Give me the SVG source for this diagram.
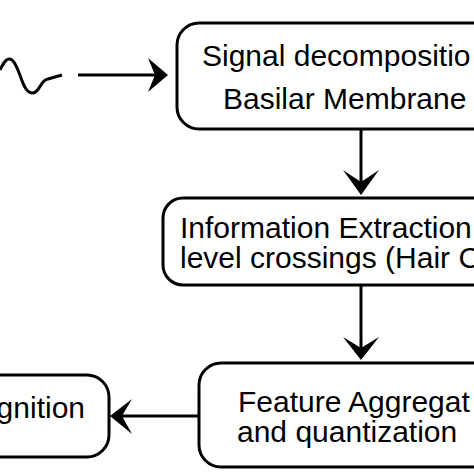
<svg xmlns="http://www.w3.org/2000/svg" width="474" height="474" viewBox="0 0 474 474">
<style>
.box{fill:#fff;stroke:#000;stroke-width:3}
.t{font-family:"Liberation Sans",Arial,sans-serif;font-size:30px;fill:#000}
.ln{stroke:#000;stroke-width:3;fill:none}
.ah{fill:#000;stroke:none}
</style>
<rect width="474" height="474" fill="#fff"/>
<g id="connectors">
<path class="ln" d="M0,70 C4,61 8,57 12,60 C20,66 22,93 32,93 C40,93 40,80 48,79 L62,75"/>
<path class="ln" d="M78,75 L155,75"/>
<path class="ah" d="M168,75 L148,58 L155,75 L148,92 Z"/>
<path class="ln" d="M361,129 L361,185"/>
<path class="ah" d="M361,195 L343,170 L361,182 L379,170 Z"/>
<path class="ln" d="M361,285 L361,350"/>
<path class="ah" d="M361,360 L343,337 L361,348 L379,337 Z"/>
<path class="ln" d="M199,416 L122,416"/>
<path class="ah" d="M110,416 L132,399 L122,416 L132,434 Z"/>
</g>
<g id="n1">
<rect class="box" x="177" y="23" width="330" height="106" rx="22"/>
<text class="t" x="202" y="66">Signal decompositio</text>
<text class="t" x="223" y="109">Basilar Membrane</text>
</g>
<g id="n2">
<rect class="box" x="163" y="198" width="330" height="87" rx="20"/>
<text class="t" x="180" y="238">Information Extraction</text>
<text class="t" x="180" y="268">level crossings (Hair C</text>
</g>
<g id="n3">
<rect class="box" x="199" y="363" width="300" height="104" rx="22"/>
<text class="t" x="238" y="412">Feature Aggregat</text>
<text class="t" x="237" y="442">and quantization</text>
</g>
<g id="n4">
<rect class="box" x="-100" y="375" width="209" height="82" rx="22"/>
<text class="t" x="85" y="418" text-anchor="end">gnition</text>
</g>
</svg>
